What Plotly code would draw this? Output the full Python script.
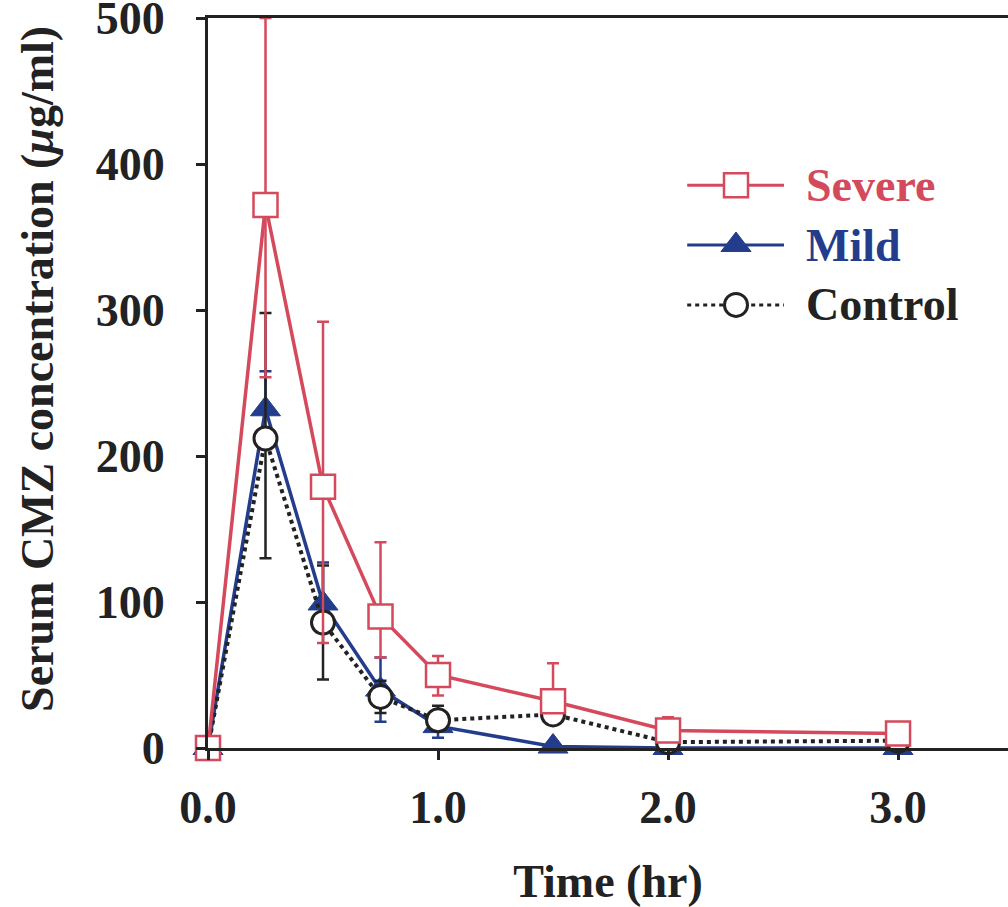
import plotly.graph_objects as go

# ---- data ----
time_hr = [0, 0.25, 0.5, 0.75, 1.0, 1.5, 2.0, 3.0]

severe = [0, 372, 179, 90, 50, 32, 12, 10]
severe_err_up = [0, 128, 113, 51, 13, 26, 9, 0]
severe_err_dn = [0, 118, 107, 28, 14, 0, 0, 0]

mild = [0, 232, 99, 40, 15, 1, 0, 0]
mild_err_up = [0, 26, 28, 22, 0, 0, 0, 0]
mild_err_dn = [0, 0, 0, 22, 8, 0, 0, 0]

control = [0, 212, 86, 35, 19, 23, 4, 5]
control_err_up = [0, 86, 39, 11, 10, 0, 0, 0]
control_err_dn = [0, 82, 39, 11, 0, 0, 0, 0]

x_ticks = [0, 1, 2, 3]
x_tick_labels = ["0.0", "1.0", "2.0", "3.0"]
y_ticks = [0, 100, 200, 300, 400, 500]

series_names = ["Severe", "Mild", "Control"]
y_title = "Serum CMZ concentration (<i>μ</i>g/ml)"
x_title = "Time (hr)"

RED = "#D4495C"
BLUE = "#233D8C"
BLACK = "#222222"
FONT = "Liberation Serif"

fig = go.Figure()

# Mild (bottom)
fig.add_trace(go.Scatter(
    x=time_hr, y=mild, mode="lines+markers", name="Mild", showlegend=False,
    line=dict(color=BLUE, width=3.5),
    marker=dict(symbol="triangle-up", size=26, color=BLUE, line=dict(color=BLUE, width=1)),
    error_y=dict(type="data", symmetric=False, array=mild_err_up, arrayminus=mild_err_dn,
                 color=BLUE, thickness=2.5, width=6),
    cliponaxis=False))

# Control
fig.add_trace(go.Scatter(
    x=time_hr, y=control, mode="lines+markers", name="Control", showlegend=False,
    line=dict(color=BLACK, width=4, dash="4px,4px"),
    marker=dict(symbol="circle", size=23, color="white", line=dict(color=BLACK, width=3)),
    error_y=dict(type="data", symmetric=False, array=control_err_up, arrayminus=control_err_dn,
                 color=BLACK, thickness=2.5, width=6),
    cliponaxis=False))

# Severe (top)
fig.add_trace(go.Scatter(
    x=time_hr, y=severe, mode="lines+markers", name="Severe", showlegend=False,
    line=dict(color=RED, width=3.5),
    marker=dict(symbol="square", size=24, color="white", line=dict(color=RED, width=2.5)),
    error_y=dict(type="data", symmetric=False, array=severe_err_up, arrayminus=severe_err_dn,
                 color=RED, thickness=2.5, width=6),
    cliponaxis=False))

# ---- custom legend (overlay axis in plot-fraction units) ----
leg_rows = [0.771, 0.689, 0.607]
leg_line_x = [0.599, 0.72]
leg_mark_x = 0.66
leg_text_x = 0.745
leg_styles = [
    dict(line=dict(color=RED, width=3),
         marker=dict(symbol="square", size=24, color="white", line=dict(color=RED, width=2.5)), col=RED),
    dict(line=dict(color=BLUE, width=3),
         marker=dict(symbol="triangle-up", size=26, color=BLUE, line=dict(color=BLUE, width=1)), col=BLUE),
    dict(line=dict(color=BLACK, width=3, dash="4px,4px"),
         marker=dict(symbol="circle", size=23, color="white", line=dict(color=BLACK, width=3)), col=BLACK),
]
for name, yy, st in zip(series_names, leg_rows, leg_styles):
    fig.add_trace(go.Scatter(x=leg_line_x, y=[yy, yy], mode="lines", line=st["line"],
                             xaxis="x2", yaxis="y2", showlegend=False, hoverinfo="skip"))
    fig.add_trace(go.Scatter(x=[leg_mark_x], y=[yy], mode="markers", marker=st["marker"],
                             xaxis="x2", yaxis="y2", showlegend=False, hoverinfo="skip"))
    fig.add_annotation(x=leg_text_x, y=yy, xref="x2", yref="y2", text=name, showarrow=False,
                       xanchor="left", yanchor="middle",
                       font=dict(family=FONT, size=46, color=st["col"], weight="bold"))

# y-axis title as a rotated annotation (sits slightly above the axis centre)
fig.add_annotation(x=-0.214, y=0.519, xref="paper", yref="paper", text=y_title,
                   textangle=-90, showarrow=False, xanchor="center", yanchor="middle",
                   font=dict(family=FONT, size=46, color=BLACK, weight="bold"))

fig.update_layout(
    width=1008, height=907,
    margin=dict(l=208, r=0, t=18, b=159, autoexpand=False),
    paper_bgcolor="white", plot_bgcolor="white",
    showlegend=False,
    font=dict(family=FONT, size=46, color=BLACK),
    xaxis=dict(range=[0, 3.478], tickvals=x_ticks, ticktext=x_tick_labels,
               automargin=False, ticklabeloverflow="allow",
               showline=True, linewidth=3, linecolor=BLACK, mirror=True,
               ticks="outside", ticklen=9, tickwidth=3, tickcolor=BLACK,
               showgrid=False, zeroline=False,
               tickfont=dict(family=FONT, size=46, color=BLACK, weight="bold"),
               ticklabelstandoff=8,
               title=dict(text=x_title, standoff=38,
                          font=dict(family=FONT, size=46, color=BLACK, weight="bold"))),
    yaxis=dict(range=[0, 500], tickvals=y_ticks,
               automargin=False, ticklabeloverflow="allow",
               showline=True, linewidth=3, linecolor=BLACK, mirror=False,
               ticks="outside", ticklen=9, tickwidth=3, tickcolor=BLACK,
               showgrid=False, zeroline=False,
               tickfont=dict(family=FONT, size=46, color=BLACK, weight="bold"),
               ticklabelstandoff=22),
    xaxis2=dict(overlaying="x", range=[0, 1], visible=False),
    yaxis2=dict(overlaying="y", range=[0, 1], visible=False),
)

fig.write_html("out.html", config={"displayModeBar": False},
               post_script="document.body.style.margin='0px';document.body.style.overflow='hidden';")
